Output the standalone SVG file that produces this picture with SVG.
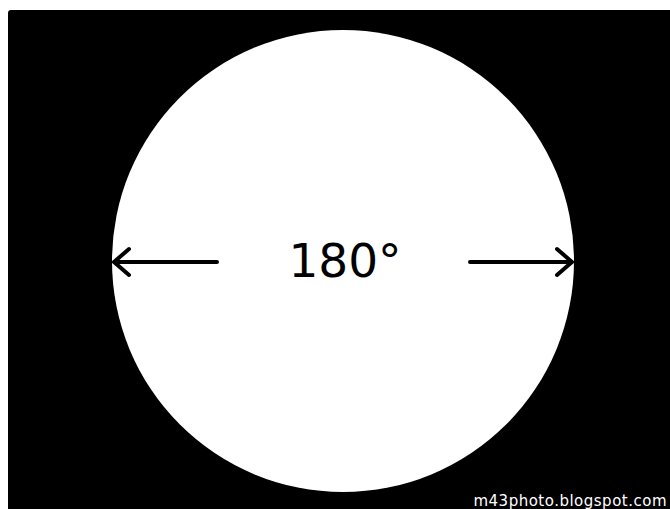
<svg xmlns="http://www.w3.org/2000/svg" width="670" height="509" viewBox="0 0 670 509">
<style>
.arr{stroke:#000;stroke-width:4;fill:none;stroke-linecap:round;stroke-linejoin:round}
</style>
<rect x="0" y="0" width="670" height="509" fill="#fff"/>
<g id="frame"><rect x="8" y="10" width="670" height="510" rx="3" fill="#000"/></g>
<g id="circle"><circle cx="343" cy="261" r="231" fill="#fff"/></g>
<g id="connectors">
<path class="arr" d="M217 262H114M129 249L114 262L129 275"/>
<path class="arr" d="M470 262H572M557 249L572 262L557 275"/>
</g>
<g id="label"><text x="345" y="277" text-anchor="middle" font-family="DejaVu Sans, sans-serif" font-size="47" fill="#000">180°</text></g>
<g id="watermark"><text x="667" y="506" text-anchor="end" font-family="DejaVu Sans, sans-serif" font-size="15" letter-spacing="0.5" fill="#fff">m43photo.blogspot.com</text></g>
</svg>
